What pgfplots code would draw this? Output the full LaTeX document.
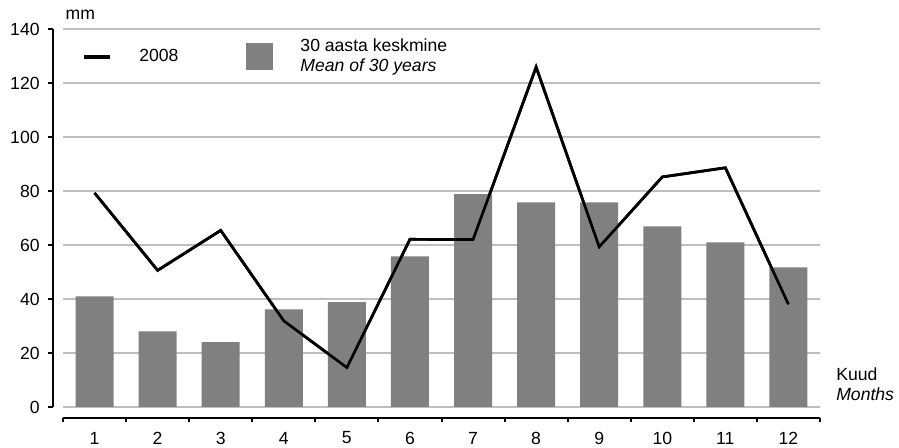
\documentclass[border=0pt]{standalone}
\usepackage{pgfplots}
\pgfplotsset{compat=1.18}
\usepackage{fontspec}
\setmainfont{Liberation Sans}
\definecolor{barcol}{RGB}{128,128,128}
\definecolor{gridcol}{RGB}{190,190,190}
\newcommand{\fs}{\fontsize{8.8pt}{10pt}\selectfont}
\begin{document}
\begin{tikzpicture}
\useasboundingbox (-31.5pt,-20.5pt) rectangle (418pt,203.5pt);
\begin{axis}[
  at={(0,0)}, anchor=south west,
  scale only axis, width=378.5pt, height=189pt,
  xmin=0.5, xmax=12.5, ymin=0, ymax=140,
  clip=false,
  axis line style={draw=none},
  tick style={draw=none},
  xtick={1,...,12}, ytick={0,20,...,140},
  ymajorgrids, grid style={color=gridcol, line width=0.6pt},
  /pgf/number format/assume math mode=true,
  tick label style={font=\fs, inner sep=0pt},
  yticklabel style={anchor=east, xshift=-11.5pt},
  xticklabel style={anchor=center, yshift=-15.5pt},
  xlabel={Kuud\\\textit{Months}},
  xlabel style={font=\fs, at={(axis description cs:1.021,0.061)}, anchor=west, align=left, inner sep=0pt},
  legend columns=2,
  legend style={at={(0.025,0.926)}, anchor=west, draw=none, fill=none, inner sep=0pt, outer sep=0pt,
    font=\fs, nodes={inner sep=0pt},
    /tikz/every odd column/.append style={column sep=13.5pt},
    /tikz/every even column/.append style={column sep=34pt},
    cells={align=left}},
]
\addplot[line width=1.35pt, black, sharp plot, mark=none,
  legend image code/.code={\draw[line width=2.2pt, black] (0pt,0pt) -- (13pt,0pt);}]
  coordinates {(1,79.3) (2,50.6) (3,65.4) (4,31.9) (5,14.6) (6,62.1) (7,62.0) (8,125.9) (9,59.3) (10,85.2) (11,88.6) (12,38.0)};
\addlegendentry{2008}
\addplot[ybar, bar width=19pt, fill=barcol, draw=none,
  legend image code/.code={\fill[barcol] (0pt,-6.75pt) rectangle (13.5pt,6.75pt);}]
  coordinates {(1,41.0) (2,28.0) (3,24.0) (4,36.2) (5,38.8) (6,55.8) (7,78.8) (8,75.8) (9,75.8) (10,66.9) (11,61.0) (12,51.7)};
\addlegendentry{30 aasta keskmine\\\textit{Mean of 30 years}}
% redraw line above bars
\addplot[line width=1.35pt, black, sharp plot, mark=none, forget plot]
  coordinates {(1,79.3) (2,50.6) (3,65.4) (4,31.9) (5,14.6) (6,62.1) (7,62.0) (8,125.9) (9,59.3) (10,85.2) (11,88.6) (12,38.0)};
% axis lines
\draw[line width=1pt] ([xshift=-5pt]axis cs:0.5,0) -- ([xshift=-5pt]axis cs:0.5,140);
\pgfplotsinvokeforeach{0,20,40,60,80,100,120,140}{
  \draw[line width=1pt] ([xshift=-5pt]axis cs:0.5,#1) -- ([xshift=-7.5pt]axis cs:0.5,#1);
}
\draw[line width=1pt] ([yshift=-5.5pt]axis cs:0.5,0) -- ([yshift=-5.5pt]axis cs:12.5,0);
\pgfplotsinvokeforeach{0.5,1.5,2.5,3.5,4.5,5.5,6.5,7.5,8.5,9.5,10.5,11.5,12.5}{
  \draw[line width=1pt] ([yshift=-5.5pt]axis cs:#1,0) -- ([yshift=-7.5pt]axis cs:#1,0);
}
\node[font=\fs, anchor=west, inner sep=0pt] at (axis description cs:0.003,1.037) {mm};
\end{axis}
\end{tikzpicture}
\end{document}
